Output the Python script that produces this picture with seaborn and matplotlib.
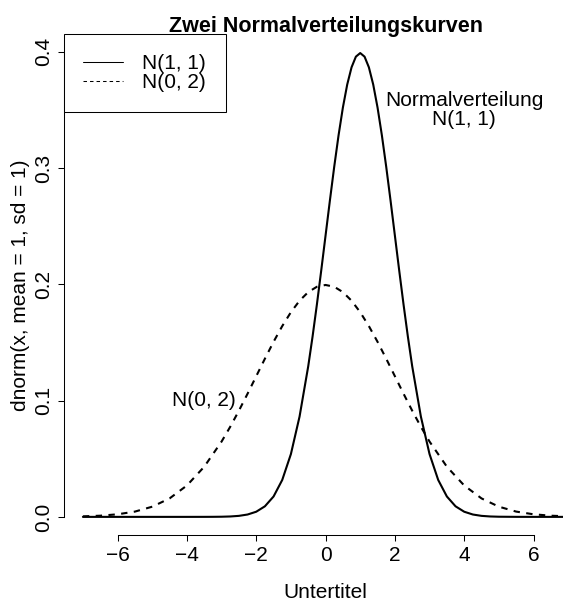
import matplotlib
matplotlib.use("Agg")
import matplotlib.pyplot as plt
from matplotlib.lines import Line2D
import numpy as np
import pandas as pd
import seaborn as sns

# ---- data ----
series_names = ["N(1, 1)", "N(0, 2)"]

x_n11 = [-7.0, -6.0, -5.0, -4.0, -3.5, -3.25, -3.0, -2.75, -2.5, -2.25, -2.0, -1.75,
         -1.5, -1.25, -1.0, -0.75, -0.5, -0.375, -0.25, -0.125, 0.0, 0.125, 0.25,
         0.375, 0.5, 0.625, 0.75, 0.875, 1.0, 1.125, 1.25, 1.375, 1.5, 1.625, 1.75,
         1.875, 2.0, 2.125, 2.25, 2.375, 2.5, 2.75, 3.0, 3.25, 3.5, 3.75, 4.0, 4.25,
         4.5, 4.75, 5.0, 5.5, 6.0, 7.0]
y_n11 = [0.0, 0.0, 0.0, 0.0, 0.00002, 0.00005, 0.00013, 0.00035, 0.00087, 0.00203,
         0.00443, 0.00909, 0.01753, 0.03174, 0.05399, 0.08628, 0.12952, 0.15502,
         0.18265, 0.21187, 0.24197, 0.27206, 0.30114, 0.32816, 0.35207, 0.37186,
         0.38667, 0.39584, 0.39894, 0.39584, 0.38667, 0.37186, 0.35207, 0.32816,
         0.30114, 0.27206, 0.24197, 0.21187, 0.18265, 0.15502, 0.12952, 0.08628,
         0.05399, 0.03174, 0.01753, 0.00909, 0.00443, 0.00203, 0.00087, 0.00035,
         0.00013, 0.00002, 0.0, 0.0]

x_n02 = [-7.0, -6.5, -6.0, -5.5, -5.0, -4.5, -4.0, -3.5, -3.0, -2.75, -2.5, -2.25,
         -2.0, -1.75, -1.5, -1.25, -1.0, -0.75, -0.5, -0.25, 0.0, 0.25, 0.5, 0.75,
         1.0, 1.25, 1.5, 1.75, 2.0, 2.25, 2.5, 2.75, 3.0, 3.5, 4.0, 4.5, 5.0, 5.5,
         6.0, 6.5, 7.0]
y_n02 = [0.00044, 0.00101, 0.00222, 0.00454, 0.00876, 0.01587, 0.02700, 0.04314,
         0.06476, 0.07751, 0.09132, 0.10594, 0.12099, 0.13603, 0.15057, 0.16408,
         0.17603, 0.18593, 0.19333, 0.19792, 0.19947, 0.19792, 0.19333, 0.18593,
         0.17603, 0.16408, 0.15057, 0.13603, 0.12099, 0.10594, 0.09132, 0.07751,
         0.06476, 0.04314, 0.02700, 0.01587, 0.00876, 0.00454, 0.00222, 0.00101,
         0.00044]

x_ticks = [-6, -4, -2, 0, 2, 4, 6]
y_ticks = [0.0, 0.1, 0.2, 0.3, 0.4]
y_tick_labels = ["0.0", "0.1", "0.2", "0.3", "0.4"]

title = "Zwei Normalverteilungskurven"
x_label = "Untertitel"
y_label = "dnorm(x, mean = 1, sd = 1)"
annot_main = "Normalverteilung\nN(1, 1)"
annot_main_pos = (4.0, 0.35)
annot_second = "N(0, 2)"
annot_second_pos = (-3.5, 0.1)

# ---- style ----
sns.set_theme(style="white")
plt.rcParams["font.family"] = ["Liberation Sans", "DejaVu Sans"]
plt.rcParams["lines.scale_dashes"] = False
for key in ["text.color", "axes.labelcolor", "xtick.color", "ytick.color",
            "axes.edgecolor"]:
    plt.rcParams[key] = "black"
FS = 15

df = pd.concat([
    pd.DataFrame({"x": x_n11, "density": y_n11, "curve": series_names[0]}),
    pd.DataFrame({"x": x_n02, "density": y_n02, "curve": series_names[1]}),
], ignore_index=True)

fig = plt.figure(figsize=(5.63, 6.02), dpi=100)
fig.patch.set_facecolor("white")
ax = fig.add_axes([0.1128, 0.1105, 0.9309, 0.8324])
ax.set_facecolor("white")

sns.lineplot(data=df, x="x", y="density", style="curve", color="black",
             dashes={series_names[0]: "", series_names[1]: (4.6, 4.6)},
             linewidth=1.5, estimator=None, sort=False, legend=False, ax=ax)

ax.set_xlim(-7.56, 7.56)
ax.set_ylim(-0.016, 0.415)

for s in ["top", "right"]:
    ax.spines[s].set_visible(False)
for s in ["left", "bottom"]:
    ax.spines[s].set_visible(True)
    ax.spines[s].set_color("black")
    ax.spines[s].set_linewidth(0.75)
ax.spines["bottom"].set_bounds(x_ticks[0], x_ticks[-1])
ax.spines["left"].set_bounds(y_ticks[0], y_ticks[-1])

ax.set_xticks(x_ticks)
ax.set_xticklabels([str(t).replace("-", "\u2212") for t in x_ticks], fontsize=FS)
ax.set_yticks(y_ticks)
ax.set_yticklabels(y_tick_labels, fontsize=FS, rotation=90, va="center")
ax.tick_params(axis="both", direction="out", length=4.3, width=0.75, color="black",
               labelcolor="black", bottom=True, left=True)
ax.tick_params(axis="x", pad=3)
ax.tick_params(axis="y", pad=3)
ax.grid(False)

ax.set_title(title, fontsize=15.5, fontweight="bold", pad=1.7)
ax.set_xlabel(x_label, fontsize=FS, va="baseline")
ax.xaxis.set_label_coords(0.5, -0.125)
ax.set_ylabel(y_label, fontsize=FS, va="center")
ax.yaxis.set_label_coords(-0.083, 0.5)

ax.text(*annot_main_pos, annot_main, ha="center", va="center", fontsize=FS,
        linespacing=1.05)
ax.text(*annot_second_pos, annot_second, ha="center", va="center", fontsize=FS)

handles = [Line2D([], [], color="black", lw=0.75),
           Line2D([], [], color="black", lw=0.75, dashes=(2.5, 2.2))]
leg = ax.legend(handles, series_names, loc="upper left", bbox_to_anchor=(0, 1),
                borderaxespad=0, fontsize=FS, frameon=True, fancybox=False,
                edgecolor="black", framealpha=1, handlelength=1.92,
                handletextpad=0.9, borderpad=0.95, labelspacing=0.0)
leg.get_frame().set_linewidth(0.75)

fig.savefig("out.png", dpi=100, facecolor="white")
